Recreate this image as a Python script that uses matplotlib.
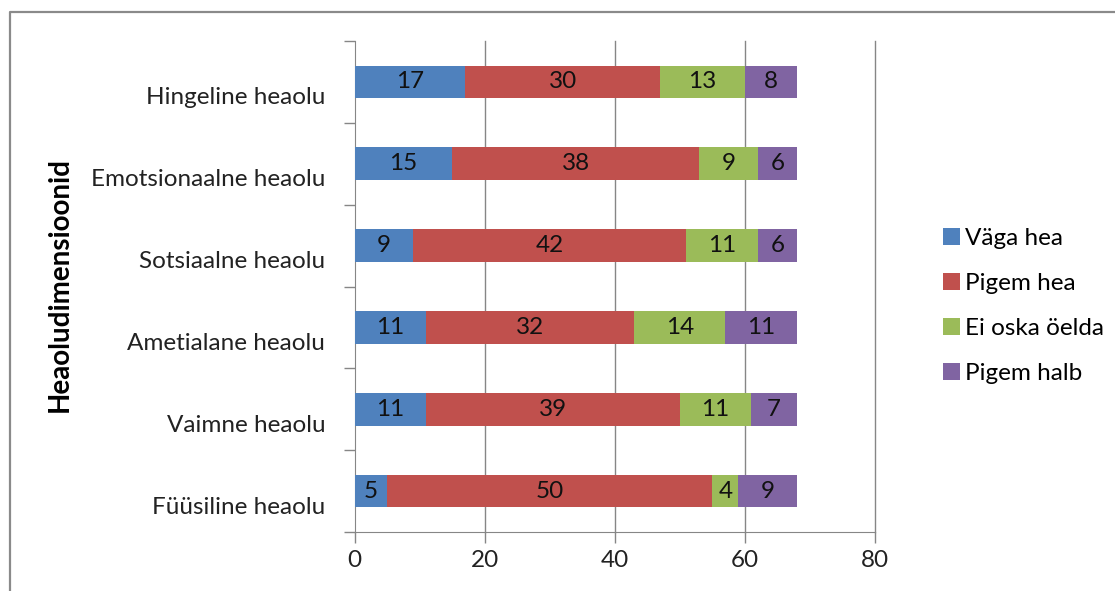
import matplotlib
matplotlib.use("Agg")
import matplotlib.pyplot as plt
import matplotlib.transforms as mtransforms
from matplotlib.lines import Line2D

# Data (bottom to top)
categories = ["Füüsiline heaolu", "Vaimne heaolu", "Ametialane heaolu",
              "Sotsiaalne heaolu", "Emotsionaalne heaolu", "Hingeline heaolu"]
series = ["Väga hea", "Pigem hea", "Ei oska öelda", "Pigem halb"]
vaga_hea = [5, 11, 11, 9, 15, 17]
pigem_hea = [50, 39, 32, 42, 38, 30]
ei_oska = [4, 11, 14, 11, 9, 13]
pigem_halb = [9, 7, 11, 6, 6, 8]
xticks = [0, 20, 40, 60, 80]

colors = ["#4F81BD", "#C0504D", "#9BBB59", "#8064A2"]
axis_gray = "#868686"
fs = 17.5

plt.rcParams["font.family"] = ["Lato", "DejaVu Sans"]
W, H = 1115, 591
fig = plt.figure(figsize=(W / 100, H / 100), dpi=100)

# chart border (only top and left visible)
fig.add_artist(Line2D([10 / W, 10 / W, 1.02], [-0.02, 1 - 12 / H, 1 - 12 / H],
                      transform=fig.transFigure, color="#8a8a8a", lw=1.6))

ax = fig.add_axes([354.5 / W, 1 - 532 / H, (875 - 354.5) / W, (532 - 41) / H])

y = range(len(categories))
left = [0] * len(categories)
for name, vals, col in zip(series, [vaga_hea, pigem_hea, ei_oska, pigem_halb], colors):
    bars = ax.barh(y, vals, left=left, height=0.4, color=col, label=name,
                   edgecolor="none", zorder=3)
    for b, v in zip(bars, vals):
        ax.text(b.get_x() + b.get_width() / 2, b.get_y() + b.get_height() / 2,
                str(v), ha="center", va="center", fontsize=fs, color="#111111", zorder=4)
    left = [a + b for a, b in zip(left, vals)]

ax.set_xlim(0, 80)
ax.set_ylim(-0.5, len(categories) - 0.5)
ax.set_xticks(xticks)
ax.set_xticklabels([str(t) for t in xticks], fontsize=fs)
ax.set_yticks(list(y))
ax.set_yticklabels(categories, fontsize=fs)
ax.set_yticks([i - 0.5 for i in range(len(categories) + 1)], minor=True)
ax.tick_params(axis="y", which="major", length=0, pad=21)
ax.tick_params(axis="y", which="minor", length=8, color=axis_gray, width=1)
ax.tick_params(axis="x", length=8, color=axis_gray, width=1, pad=5)
# category names sit a bit below the bar centres
shift = mtransforms.ScaledTranslation(0, -14 / 100, fig.dpi_scale_trans)
for t in ax.get_yticklabels():
    t.set_transform(t.get_transform() + shift)
for t in ax.get_yticklabels() + ax.get_xticklabels():
    t.set_color("#222222")

# vertical gridlines, the one at 80 included
for t in xticks[1:]:
    ax.axvline(t, color=axis_gray, lw=1, zorder=0, clip_on=False)
for s in ["top", "right"]:
    ax.spines[s].set_visible(False)
ax.spines["left"].set_color(axis_gray)
ax.spines["bottom"].set_color(axis_gray)
ax.spines["bottom"].set_bounds(0, 80)

ax.set_ylabel("Heaoludimensioonid", fontsize=20, fontweight="bold")
ax.yaxis.set_label_coords(-282 / (875 - 354.5), 0.505)

ax.legend(loc="center left", bbox_to_anchor=(921 / W, 1 - 306 / H),
          bbox_transform=fig.transFigure, frameon=False, fontsize=fs,
          handlelength=0.7, handleheight=0.7, handletextpad=0.2,
          labelspacing=1.0)

fig.savefig("out.png", dpi=100)
